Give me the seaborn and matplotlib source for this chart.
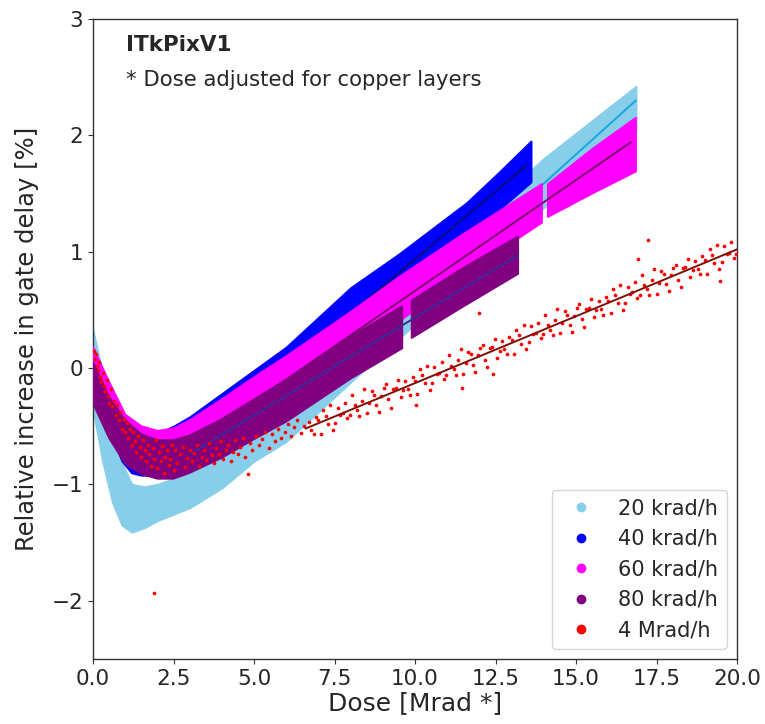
import numpy as np
import pandas as pd
import seaborn as sns
import matplotlib
matplotlib.use("Agg")
import matplotlib.pyplot as plt
from matplotlib.lines import Line2D

nan = np.nan

# ---------------- data ----------------
series_labels = ["20 krad/h", "40 krad/h", "60 krad/h", "80 krad/h", "4 Mrad/h"]
series_colors = ["#87CEEB", "#0000FF", "#FF00FF", "#800080", "#FF0000"]
fit_colors = ["#1AA6DF", "#0A0A80", "#7A0A6E", "#3A2A9A", "#7A1208"]

# dense bands: dose, lower edge, upper edge
lb_dose = [0.0, 0.3, 0.6, 0.9, 1.2, 1.6, 2.0, 3.0, 4.0, 5.0, 6.0, 8.0, 10.0, 12.0, 14.0, 16.86]
lb_low = [-0.35, -0.80, -1.15, -1.35, -1.41, -1.37, -1.31, -1.20, -1.03, -0.80, -0.63, -0.12, 0.38, 0.88, 1.38, 2.05]
lb_high = [0.32, -0.05, -0.50, -0.82, -1.00, -1.02, -1.00, -0.90, -0.72, -0.50, -0.22, 0.28, 0.78, 1.29, 1.80, 2.42]

bl_dose = [0.0, 0.5, 0.9, 1.2, 1.5, 2.0, 2.5, 3.0, 4.0, 5.0, 6.0, 8.0, 9.5, 11.6, 12.6, 13.6]
bl_low = [-0.30, -0.52, -0.80, -0.90, -0.92, -0.92, -0.88, -0.82, -0.60, -0.38, -0.15, 0.33, 0.68, 1.12, 1.36, 1.60]
bl_high = [0.12, -0.22, -0.45, -0.55, -0.58, -0.56, -0.50, -0.42, -0.22, -0.02, 0.18, 0.69, 0.98, 1.42, 1.68, 1.95]

mg_dose = [0.0, 0.5, 1.0, 1.5, 2.0, 2.5, 3.0, 4.0, 5.0, 6.0, 8.0, 9.5, 11.5, 13.94, 14.03, 14.13, 15.5, 16.86]
mg_low = [-0.20, -0.45, -0.68, -0.78, -0.80, -0.78, -0.72, -0.58, -0.40, -0.22, 0.12, 0.40, 0.80, 1.25, nan, 1.30, 1.50, 1.69]
mg_high = [0.18, -0.12, -0.40, -0.50, -0.54, -0.52, -0.45, -0.27, -0.08, 0.10, 0.48, 0.78, 1.15, 1.58, nan, 1.58, 1.88, 2.15]

pu_dose = [0.0, 0.5, 1.0, 1.5, 2.0, 2.5, 3.0, 4.0, 5.0, 6.0, 8.0, 9.6, 9.75, 9.9, 11.5, 13.2]
pu_low = [-0.30, -0.60, -0.82, -0.91, -0.95, -0.95, -0.90, -0.77, -0.61, -0.46, -0.09, 0.17, nan, 0.26, 0.53, 0.81]
pu_high = [0.05, -0.25, -0.45, -0.57, -0.62, -0.62, -0.58, -0.44, -0.27, -0.10, 0.27, 0.53, nan, 0.58, 0.86, 1.13]

# linear fits (end points)
lb_fit_x = [6.0, 16.86]
lb_fit_y = [-0.41, 2.30]
bl_fit_x = [2.5, 13.5]
bl_fit_y = [-0.81, 1.75]
mg_fit_x = [3.0, 16.7]
mg_fit_y = [-0.67, 1.94]
pu_fit_x = [3.0, 13.2]
pu_fit_y = [-0.74, 0.97]
rd_fit_x = [6.6, 20.0]
rd_fit_y = [-0.52, 1.02]

# 4 Mrad/h individual points
red_dose = [
    0.02, 0.05, 0.08, 0.12, 0.15, 0.18, 0.22, 0.26, 0.30, 0.34, 0.38, 0.42, 0.46, 0.50, 0.55, 0.60,
    0.65, 0.70, 0.75, 0.80, 0.85, 0.90, 0.95, 1.00, 1.05, 1.10, 1.15, 1.20, 1.25, 1.30, 1.35, 1.40,
    1.45, 1.50, 1.55, 1.60, 1.65, 1.70, 1.75, 1.80, 1.85, 1.89, 1.90, 1.95, 2.00, 2.05, 2.10, 2.15,
    2.20, 2.25, 2.30, 2.35, 2.40, 2.45, 2.50,
    2.55, 2.62, 2.70, 2.78, 2.85, 2.92, 3.00, 3.08, 3.15, 3.22, 3.30, 3.38, 3.45, 3.52, 3.60, 3.68,
    3.75, 3.82, 3.90, 3.98, 4.05, 4.12, 4.20, 4.28, 4.35, 4.42, 4.50, 4.58, 4.65, 4.72, 4.80, 4.88,
    4.95, 5.05, 5.15, 5.25, 5.35, 5.45, 5.55, 5.65, 5.75, 5.85, 5.95, 6.05, 6.15, 6.25, 6.35, 6.45, 6.55,
    6.70, 6.85, 7.00, 7.15, 7.30, 7.45, 7.60, 7.75, 7.90, 8.05, 8.20, 8.35, 8.50, 8.65, 8.80, 8.95,
    9.10, 9.25, 9.40, 9.55, 9.70, 9.85, 10.03, 10.00, 10.15, 10.30, 10.45, 10.60, 10.75, 10.90, 11.05,
    11.20, 11.35, 11.45, 11.50, 11.65, 11.80, 11.95, 12.00, 12.10, 12.25, 12.40, 12.42, 12.55, 12.70,
    12.85, 13.00, 13.15, 13.30, 13.45, 13.60, 13.75, 13.90, 14.05, 14.20, 14.35, 14.50, 14.65, 14.80,
    14.95, 15.10, 15.25, 15.40, 15.55, 15.70, 15.85, 16.00, 16.15, 16.30, 16.45, 16.60, 16.75, 16.90,
    16.92, 17.05, 17.20, 17.25, 17.35, 17.50, 17.65, 17.80, 17.95, 18.10, 18.25, 18.40, 18.55, 18.70,
    18.85, 19.00, 19.15, 19.30, 19.45, 19.47, 19.60, 19.75, 19.90,
    6.775, 6.925, 7.075, 7.225, 7.375, 7.525, 7.675, 7.825, 7.975, 8.125, 8.275, 8.425, 8.575, 8.725,
    8.875, 9.025, 9.175, 9.325, 9.475, 9.625, 9.775, 9.925, 10.075, 10.225, 10.375, 10.525, 10.675,
    10.825, 10.975, 11.125, 11.275, 11.425, 11.575, 11.725, 11.875, 12.025, 12.175, 12.325, 12.475,
    12.625, 12.775, 12.925, 13.075, 13.225, 13.375, 13.525, 13.675, 13.825, 13.975, 14.125, 14.275,
    14.425, 14.575, 14.725, 14.875, 15.025, 15.175, 15.325, 15.475, 15.625, 15.775, 15.925, 16.075,
    16.225, 16.375, 16.525, 16.675, 16.825, 16.975, 17.125, 17.275, 17.425, 17.575, 17.725, 17.875,
    18.025, 18.175, 18.325, 18.475, 18.625, 18.775, 18.925, 19.075, 19.225, 19.375, 19.525, 19.675,
    19.825, 19.975,
]
red_val = [
    0.15, 0.08, 0.12, 0.02, -0.02, 0.05, -0.08, -0.12, -0.04, -0.15, -0.20, -0.10, -0.24, -0.30, -0.18, -0.33,
    -0.28, -0.40, -0.32, -0.45, -0.38, -0.52, -0.44, -0.55, -0.47, -0.60, -0.52, -0.66, -0.55, -0.63, -0.72, -0.58,
    -0.68, -0.76, -0.62, -0.70, -0.80, -0.66, -0.74, -0.84, -0.69, -1.93, -0.78, -0.62, -0.86, -0.72, -0.80, -0.67,
    -0.90, -0.76, -0.70, -0.83, -0.78, -0.66, -0.88,
    -0.70, -0.82, -0.74, -0.68, -0.85, -0.77, -0.70, -0.80, -0.73, -0.66, -0.84, -0.76, -0.70, -0.79, -0.64, -0.75,
    -0.82, -0.69, -0.74, -0.63, -0.78, -0.70, -0.66, -0.80, -0.72, -0.62, -0.74, -0.68, -0.60, -0.76, -0.91, -0.64,
    -0.70, -0.58, -0.66, -0.61, -0.55, -0.69, -0.57, -0.63, -0.52, -0.60, -0.55, -0.48, -0.58, -0.51, -0.45, -0.56, -0.50,
    -0.46, -0.57, -0.45, -0.36, -0.48, -0.53, -0.34, -0.39, -0.43, -0.23, -0.36, -0.28, -0.39, -0.20, -0.32, -0.24,
    -0.14, -0.34, -0.17, -0.25, -0.11, -0.23, -0.32, -0.11, -0.01, -0.13, -0.19, 0.01, -0.04, -0.09, 0.11,
    -0.01, 0.07, -0.17, -0.05, 0.14, 0.03, 0.11, 0.47, 0.20, 0.01, 0.18, -0.05, 0.09, 0.23,
    0.12, 0.24, 0.33, 0.21, 0.16, 0.36, 0.30, 0.26, 0.46, 0.33, 0.41, 0.30, 0.49, 0.37,
    0.45, 0.55, 0.35, 0.52, 0.44, 0.58, 0.46, 0.58, 0.68, 0.56, 0.50, 0.70, 0.65, 0.60,
    0.94, 0.80, 0.68, 1.10, 0.76, 0.64, 0.83, 0.72, 0.80, 0.89, 0.70, 0.87, 0.78, 0.92,
    0.81, 0.93, 1.02, 0.90, 0.85, 0.75, 1.05, 0.99, 0.95,
    -0.53, -0.42, -0.57, -0.41, -0.32, -0.47, -0.40, -0.30, -0.40, -0.32, -0.41, -0.18, -0.30, -0.23,
    -0.38, -0.17, -0.27, -0.18, -0.10, -0.19, -0.18, -0.08, -0.22, -0.06, 0.02, -0.13, -0.05,
    0.05, -0.06, 0.02, -0.06, 0.16, 0.04, 0.12, -0.03, 0.17, 0.07, 0.17, 0.25,
    0.15, 0.16, 0.27, 0.12, 0.28, 0.37, 0.22, 0.29, 0.39, 0.29, 0.37, 0.28,
    0.51, 0.39, 0.46, 0.31, 0.52, 0.42, 0.51, 0.59, 0.50, 0.51, 0.61, 0.47,
    0.63, 0.71, 0.56, 0.64, 0.74, 0.63, 0.71, 0.63, 0.85, 0.73, 0.81, 0.66,
    0.86, 0.76, 0.86, 0.94, 0.84, 0.85, 0.96, 0.81, 0.97, 1.06, 0.91, 0.98,
    1.08, 0.98,
]

x_ticks = [0.0, 2.5, 5.0, 7.5, 10.0, 12.5, 15.0, 17.5, 20.0]
y_ticks = [-2, -1, 0, 1, 2, 3]

# ---------------- plotting ----------------
sns.set_style("ticks")
plt.rcParams["font.family"] = ["DejaVu Sans"]

fig = plt.figure(figsize=(7.65, 7.24), dpi=100)
ax = fig.add_axes([0.1216, 0.0898, 0.8418, 0.884])

bands = [
    (lb_dose, lb_low, lb_high, lb_fit_x, lb_fit_y),
    (bl_dose, bl_low, bl_high, bl_fit_x, bl_fit_y),
    (mg_dose, mg_low, mg_high, mg_fit_x, mg_fit_y),
    (pu_dose, pu_low, pu_high, pu_fit_x, pu_fit_y),
]
for i, (dx, lo, hi, fx, fy) in enumerate(bands):
    ax.fill_between(dx, lo, hi, color=series_colors[i], edgecolor=series_colors[i],
                    linewidth=1.5, zorder=2 + i)
    sns.lineplot(x=fx, y=fy, ax=ax, color=fit_colors[i], linewidth=1.4, zorder=2.5 + i)

red_df = pd.DataFrame({"dose": red_dose, "val": red_val})
sns.scatterplot(data=red_df, x="dose", y="val", ax=ax, color=series_colors[4], s=7,
                linewidth=0, zorder=7, legend=False)
sns.lineplot(x=rd_fit_x, y=rd_fit_y, ax=ax, color=fit_colors[4], linewidth=1.4, zorder=8)

ax.set_xlim(0, 20)
ax.set_ylim(-2.5, 3)
ax.set_xticks(x_ticks)
ax.set_xticklabels([f"{t:.1f}" for t in x_ticks])
ax.set_yticks(y_ticks)
ax.set_yticklabels([f"{t}".replace("-", "\u2212") for t in y_ticks])
ax.tick_params(labelsize=15.5, length=3.5, color="#333333")
ax.set_xlabel("Dose [Mrad *]", fontsize=18, labelpad=2)
ax.set_ylabel("Relative increase in gate delay [%]", fontsize=17.5, labelpad=9)
for s in ax.spines.values():
    s.set_color("#333333")
    s.set_linewidth(1.0)

ax.text(0.051, 0.959, "ITkPixV1", transform=ax.transAxes, fontsize=15.5,
        fontweight="bold", va="center", ha="left")
ax.text(0.051, 0.905, "* Dose adjusted for copper layers", transform=ax.transAxes,
        fontsize=15.3, va="center", ha="left")

handles = [Line2D([], [], marker="o", linestyle="", color=c, markersize=6)
           for c in series_colors]
ax.legend(handles, series_labels, loc="lower right", fontsize=15, frameon=True)

fig.savefig("out.png", dpi=100)
